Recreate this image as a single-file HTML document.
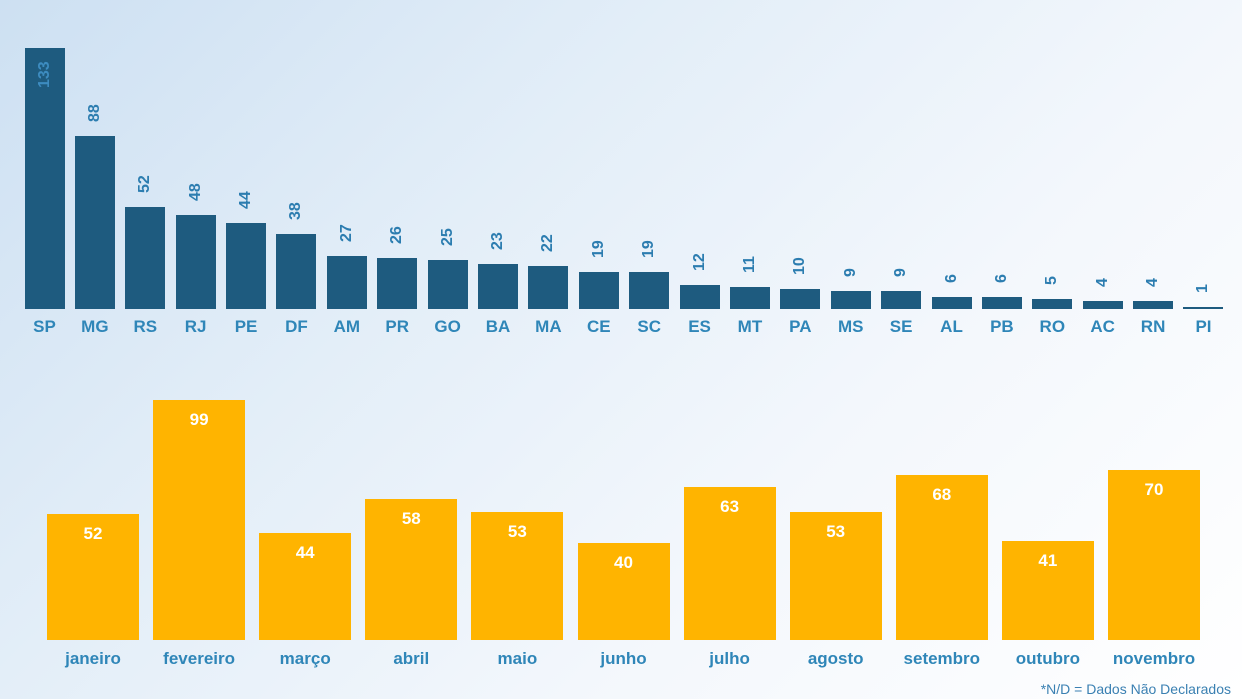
<!DOCTYPE html>
<html><head><meta charset="utf-8"><style>
body{margin:0}
#c{position:relative;width:1242px;height:699px;overflow:hidden;font-family:"Liberation Sans",sans-serif;
background:linear-gradient(135deg,#cde0f2 0%,#e3eef8 35%,#f3f7fc 65%,#ffffff 100%);}
.b{position:absolute;background:#1e5b7f}
.v{position:absolute;color:#2c7db0;font-weight:bold;font-size:16px;transform-origin:0 0;transform:rotate(-90deg);white-space:nowrap}
.l{position:absolute;color:#2f86b8;font-weight:bold;font-size:17px;text-align:center;width:80px}
.y{position:absolute;background:#ffb400}
.w{position:absolute;color:#fff;font-weight:bold;font-size:17px;text-align:center}
.m{position:absolute;color:#2f86b8;font-weight:bold;font-size:17px;text-align:center;width:120px}
</style></head><body><div id="c"></div>
<script>
var c=document.getElementById('c'),h='';
var s=[["SP",133],["MG",88],["RS",52],["RJ",48],["PE",44],["DF",38],["AM",27],["PR",26],["GO",25],["BA",23],["MA",22],["CE",19],["SC",19],["ES",12],["MT",11],["PA",10],["MS",9],["SE",9],["AL",6],["PB",6],["RO",5],["AC",4],["RN",4],["PI",1]];
s.forEach(function(d,i){var cx=44.5+i*50.39,hh=d[1]*1.962,top=309-hh;
h+='<div class="b" style="left:'+(cx-20)+'px;top:'+top+'px;width:40px;height:'+hh+'px"></div>';
var ty=d[1]>100?top+40:top-14;
h+='<div class="v" style="left:'+(cx-9)+'px;top:'+ty+'px;'+(d[1]>100?'color:#3d8cc0':'')+'">'+d[1]+'</div>';
h+='<div class="l" style="left:'+(cx-40)+'px;top:317px">'+d[0]+'</div>';});
var m=[["janeiro",52],["fevereiro",99],["março",44],["abril",58],["maio",53],["junho",40],["julho",63],["agosto",53],["setembro",68],["outubro",41],["novembro",70]];
m.forEach(function(d,i){var cx=93+i*106.1,hh=d[1]*2.424,top=640-hh;
h+='<div class="y" style="left:'+(cx-46)+'px;top:'+top+'px;width:92px;height:'+hh+'px"></div>';
h+='<div class="w" style="left:'+(cx-46)+'px;top:'+(top+10)+'px;width:92px">'+d[1]+'</div>';
h+='<div class="m" style="left:'+(cx-60)+'px;top:649px">'+d[0]+'</div>';});
h+='<div style="position:absolute;right:11px;top:681px;font-size:14px;color:#3a80b2">*N/D = Dados Não Declarados</div>';
c.innerHTML=h;
</script></body></html>
